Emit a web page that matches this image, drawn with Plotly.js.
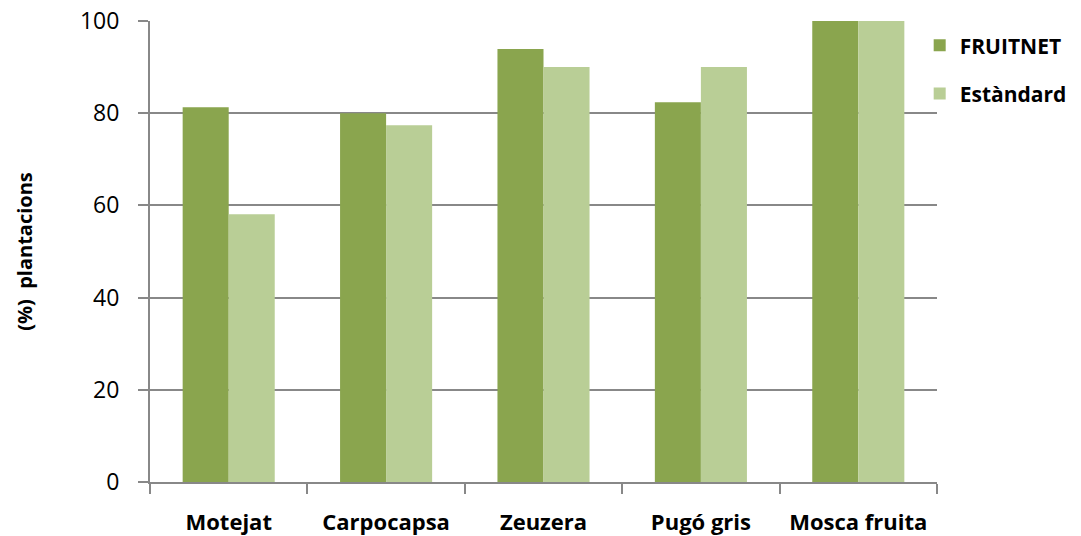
<!DOCTYPE html>
<html>
<head>
<meta charset="utf-8">
<script src="https://cdn.plot.ly/plotly-3.0.1.min.js"></script>
<style>html,body{margin:0;padding:0;background:#fff;}#chart{width:1081px;height:536px;}</style>
</head>
<body>
<div id="chart"></div>
<script>
const categories = ["Motejat", "Carpocapsa", "Zeuzera", "Pugó gris", "Mosca fruita"];
const fruitnet = [81.3, 80.0, 93.9, 82.4, 100];
const estandard = [58.1, 77.4, 90.0, 90.0, 100];
const seriesNames = ["FRUITNET", "Estàndard"];
const yTicks = [0, 20, 40, 60, 80, 100];

const fontFam = "'Open Sans', 'Noto Sans', sans-serif";
const traces = [
  {type: "bar", name: seriesNames[0], legendgroup: "a", x: categories, y: fruitnet, marker: {color: "#8AA54E"}},
  {type: "bar", name: seriesNames[1], legendgroup: "b", x: categories, y: estandard, marker: {color: "#B9CE96"}}
];
const layout = {
  width: 1081, height: 536,
  margin: {l: 150, r: 144, t: 21, b: 54, pad: 0, autoexpand: false},
  paper_bgcolor: "#ffffff", plot_bgcolor: "rgba(0,0,0,0)",
  barmode: "group", bargap: 0.415, bargroupgap: 0,
  showlegend: true,
  legend: {x: 0.978, xanchor: "left", y: 0.991, yanchor: "top", bgcolor: "rgba(0,0,0,0)",
    font: {family: fontFam, size: 21, color: "#000", weight: "bold"}, tracegroupgap: 18,
    itemwidth: 30, borderwidth: 0},
  xaxis: {type: "category", showline: true, linecolor: "#888888", linewidth: 2,
    ticks: "outside", tickson: "boundaries", ticklen: 10, tickwidth: 2, tickcolor: "#888888",
    ticklabelstandoff: 20, showgrid: false, zeroline: false,
    tickfont: {family: fontFam, size: 22, color: "#000", weight: "bold"}},
  yaxis: {range: [0, 100], tickvals: yTicks, showline: true, linecolor: "#888888", linewidth: 2,
    ticks: "outside", ticklen: 10, tickwidth: 2, tickcolor: "#888888", ticklabelstandoff: 14,
    showgrid: true, gridcolor: "#888888", gridwidth: 2, zeroline: false,
    tickfont: {family: fontFam, size: 23, color: "#000"},
    title: {text: "(%)  plantacions", standoff: 42, font: {family: fontFam, size: 20, color: "#000", weight: "bold"}}}
};
Plotly.newPlot("chart", traces, layout, {displayModeBar: false, responsive: false});
</script>
</body>
</html>
